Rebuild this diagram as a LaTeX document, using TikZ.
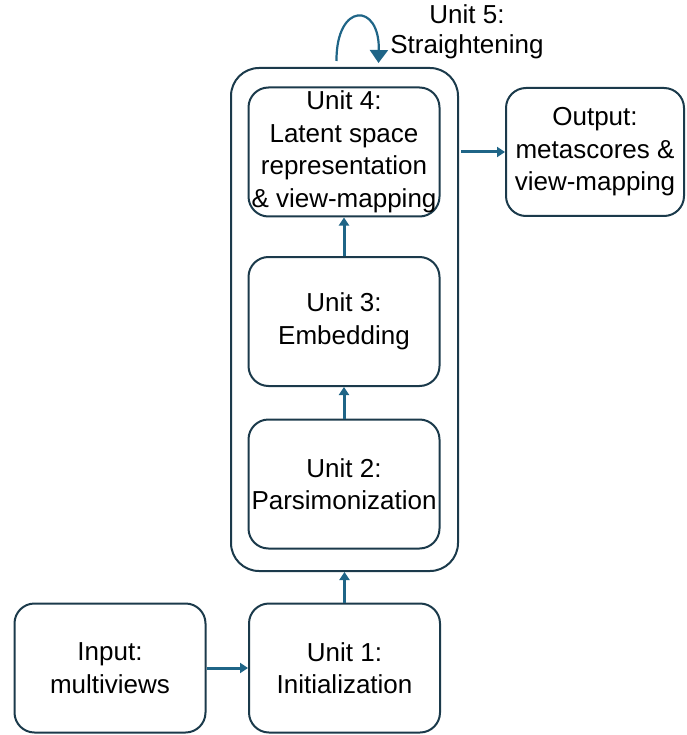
\documentclass[tikz,border=0pt]{standalone}
\usepackage{fontspec}
\setmainfont{Liberation Sans}
\usetikzlibrary{arrows.meta}
\definecolor{boxc}{HTML}{1B3A4B}
\definecolor{arrc}{HTML}{1F6587}
\begin{document}
\begin{tikzpicture}[x=1pt,y=-1pt,
  unitbox/.style={draw=boxc, line width=2pt, rounded corners=20pt, inner sep=0pt,
    minimum width=191pt, minimum height=129pt, align=center,
    font=\fontsize{26}{32.5}\selectfont},
  conn/.style={draw=arrc, line width=3pt, -{Triangle[width=10pt,length=8pt]}}]
\useasboundingbox (0,0) rectangle (686,735);
\node[draw=boxc, line width=2pt, rounded corners=28pt, minimum width=227pt, minimum height=503pt, inner sep=0pt] (outer) at (344.5,319.5) {};
\node[unitbox] (in) at (110,668) {Input:\\multiviews};
\node[unitbox] (u1) at (344.5,668) {Unit 1:\\Initialization};
\node[unitbox] (u2) at (344,484) {Unit 2:\\Parsimonization};
\node[unitbox] (u3) at (344,321.5) {Unit 3:\\Embedding};
\node[unitbox] (u4) at (344,152) {Unit 4:\\Latent space\\representation\\\& view-mapping};
\node[unitbox, minimum width=178pt, minimum height=128pt] (out) at (595,152) {Output:\\metascores \&\\view-mapping};
\node[align=center, font=\fontsize{26}{30}\selectfont, inner sep=0pt] (u5) at (467,32) {Unit 5:\\Straightening};
\draw[conn] (in.east) -- (u1.west);
\draw[conn] (u1.north) -- (outer.south);
\draw[conn] (u2.north) -- (u3.south);
\draw[conn] (u3.north) -- (u4.south);
\draw[conn] (outer.east |- out.west) ++(2,0) coordinate (oe) -- (out.west);
\coordinate (ls) at ([xshift=-8pt,yshift=6pt]outer.north);
\coordinate (le) at ([xshift=34pt,yshift=4pt]outer.north);
\draw[draw=arrc, line width=2.2pt, -{Triangle[width=18pt,length=13pt]}] (ls) .. controls (336,2) and (380,2) .. (le);
\end{tikzpicture}
\end{document}
